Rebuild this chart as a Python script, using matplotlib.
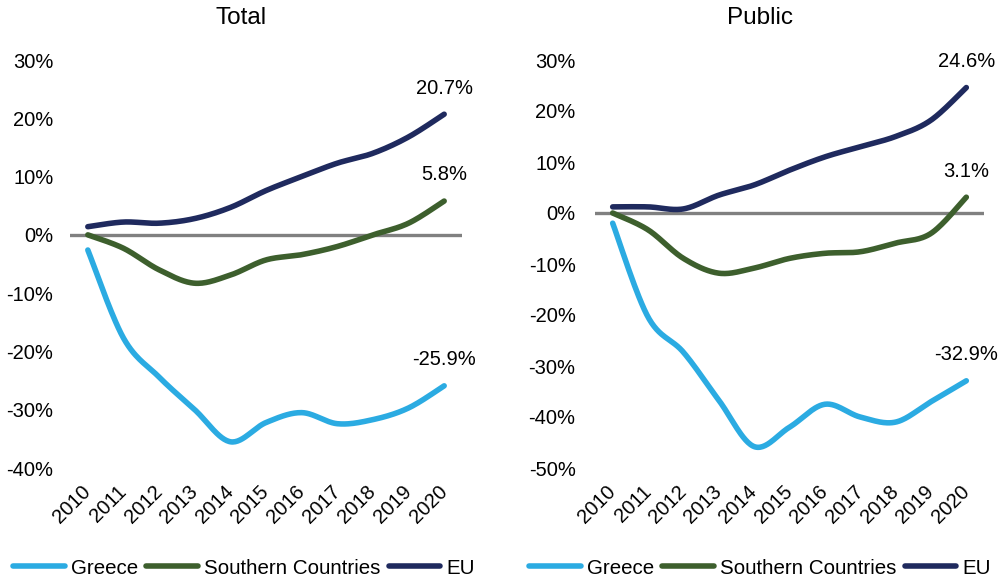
import numpy as np
import matplotlib
matplotlib.use('Agg')
import matplotlib.pyplot as plt

plt.rcParams['font.family'] = ['Liberation Sans', 'DejaVu Sans']

# --- Data (% change vs 2010) ---
years = ['2010', '2011', '2012', '2013', '2014', '2015', '2016', '2017', '2018', '2019', '2020']

total_greece   = [-2.6, -17.7, -24.4, -30.0, -35.5, -32.2, -30.5, -32.4, -31.7, -29.7, -25.9]
total_southern = [0.0, -2.3, -6.0, -8.3, -6.9, -4.3, -3.4, -2.0, 0.0, 2.0, 5.8]
total_eu       = [1.4, 2.2, 2.0, 2.8, 4.7, 7.6, 10.0, 12.3, 14.0, 16.8, 20.7]

public_greece   = [-2.0, -20.4, -27.3, -36.7, -45.8, -42.0, -37.5, -40.0, -41.0, -37.0, -32.9]
public_southern = [0.0, -3.3, -8.9, -11.8, -10.8, -8.9, -7.9, -7.6, -5.9, -4.0, 3.1]
public_eu       = [1.2, 1.2, 0.8, 3.5, 5.5, 8.4, 11.0, 13.0, 15.0, 18.2, 24.6]

series_names = ['Greece', 'Southern Countries', 'EU']
colors = ['#2BABE2', '#3D5F2D', '#1F2A5E']


def smooth(y, n=30):
    # Excel-style smoothed line (cubic Bezier, tangent = (P[i+1]-P[i-1])/6)
    x = np.arange(len(y), dtype=float)
    y = np.asarray(y, dtype=float)
    pts = np.column_stack([x, y])
    out = [pts[0]]
    t = np.linspace(0, 1, n)[1:, None]
    for i in range(len(pts) - 1):
        p0 = pts[i]
        p3 = pts[i + 1]
        prev = pts[i - 1] if i > 0 else pts[i]
        nxt = pts[i + 2] if i + 2 < len(pts) else pts[i + 1]
        c1 = p0 + (p3 - prev) / 6
        c2 = p3 - (nxt - p0) / 6
        seg = ((1 - t) ** 3) * p0 + 3 * ((1 - t) ** 2) * t * c1 + 3 * (1 - t) * t ** 2 * c2 + t ** 3 * p3
        out.extend(seg)
    out = np.array(out)
    return out[:, 0], out[:, 1]


fig = plt.figure(figsize=(10.05, 5.79), dpi=100)
W, H = 1005, 579

panels = [
    dict(title='Total', title_x=241, left=70, right=462, ylim=(-40, 30),
         data=[total_greece, total_southern, total_eu], ypad=12, legend_x=244),
    dict(title='Public', title_x=760, left=595, right=984, ylim=(-50, 30),
         data=[public_greece, public_southern, public_eu], ypad=14, legend_x=760),
]

for p in panels:
    ax = fig.add_axes([p['left'] / W, 1 - 468 / H, (p['right'] - p['left']) / W, (468 - 60) / H])
    ax.axhline(0, color='#808080', lw=2.4, zorder=1)
    handles = []
    for vals, name, c in zip(p['data'], series_names, colors):
        xs, ys = smooth(vals)
        h, = ax.plot(xs, ys, color=c, lw=4, solid_capstyle='round', label=name, zorder=2)
        handles.append(h)
        last = vals[-1]
        ax.annotate(f'{last:.1f}%', (len(vals) - 1, last), xytext=(0, 12),
                    textcoords='offset points', ha='center', va='bottom', fontsize=14.5)
    ax.set_xlim(-0.5, len(years) - 0.5)
    ax.set_ylim(*p['ylim'])
    ax.set_yticks(np.arange(p['ylim'][0], p['ylim'][1] + 1, 10))
    ax.set_yticklabels([f'{v}%' for v in np.arange(p['ylim'][0], p['ylim'][1] + 1, 10)])
    ax.set_xticks(range(len(years)))
    ax.set_xticklabels(years, rotation=45, ha='right', va='center', rotation_mode='anchor')
    ax.tick_params(axis='both', length=0, labelsize=14.5)
    ax.tick_params(axis='y', pad=p['ypad'])
    ax.tick_params(axis='x', pad=15)
    for s in ax.spines.values():
        s.set_visible(False)

    fig.text(p['title_x'] / W, 1 - 18 / H, p['title'], ha='center', va='center', fontsize=17.5)
    leg = ax.legend(handles=handles, loc='center', ncol=3, frameon=False, fontsize=14.8,
                    bbox_to_anchor=(p['legend_x'] / W, 1 - 568 / H), bbox_transform=fig.transFigure,
                    handlelength=2.5, handletextpad=0.3, columnspacing=0.4)

fig.savefig('out.png', dpi=100)
